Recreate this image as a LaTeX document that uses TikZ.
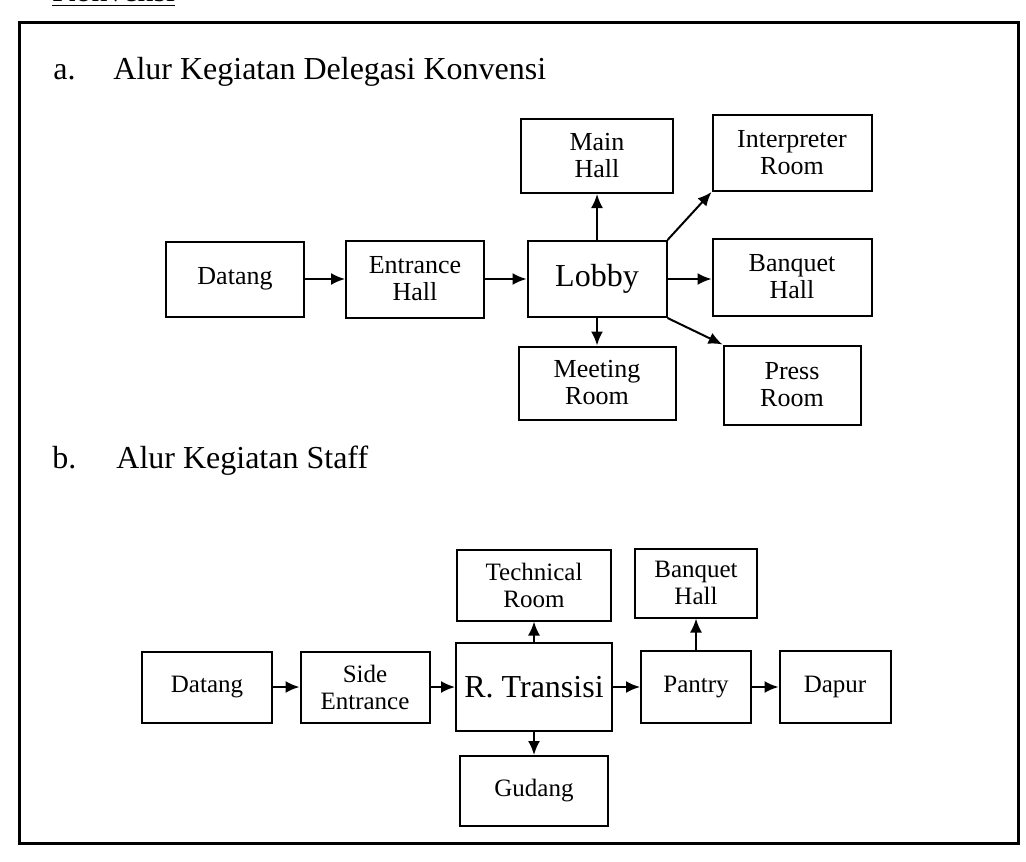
\documentclass[tikz,border=0pt]{standalone}
\usepackage{fontspec}
\setmainfont{Liberation Serif}
\usetikzlibrary{arrows.meta}

\begin{document}
\begin{tikzpicture}[x=0.5pt,y=-0.5pt]

	\tikzset{
		room/.style={rectangle,draw=black,line width=1pt,align=center,inner sep=0pt,font=\fontsize{13}{13.5}\selectfont},
		roomb/.style={room,font=\fontsize{12.5}{13.5}\selectfont},
		hub/.style={room,font=\fontsize{16}{17}\selectfont},
		flow/.style={-{Latex[length=7pt,width=6pt]},line width=1pt},
		heading/.style={anchor=base west,inner sep=0pt,font=\fontsize{16}{17}\selectfont}
	}

	\useasboundingbox (0,0) rectangle (1026,861);
	\node[heading] (pagetitle) at (52,2) {\underline{Konvensi}};
	\draw[line width=1.5pt] (19,23) rectangle (1018,843);

	% a. delegasi
	\node[heading] (labela) at (53,80) {a.};
	\node[heading] (titlea) at (113,80) {Alur Kegiatan Delegasi Konvensi};

	\node[room,minimum width=69pt,minimum height=37.5pt] (datanga) at (235,279) {Datang};
	\node[room,minimum width=69pt,minimum height=38.5pt] (entrancehall) at (415,279) {Entrance\\Hall};
	\node[hub,minimum width=69.5pt,minimum height=38pt] (lobby) at (597,279) {Lobby};
	\node[room,minimum width=76pt,minimum height=37pt] (mainhall) at (597,156) {Main\\Hall};
	\node[room,minimum width=79.5pt,minimum height=38pt] (interpreterroom) at (792,153) {Interpreter\\Room};
	\node[room,minimum width=79.5pt,minimum height=38.5pt] (banquethalla) at (792,277) {Banquet\\Hall};
	\node[room,minimum width=78.5pt,minimum height=36.5pt] (meetingroom) at (597,383) {Meeting\\Room};
	\node[room,minimum width=68.5pt,minimum height=39.5pt] (pressroom) at (792,385) {Press\\Room};

	\draw[flow] (datanga.east) -- (entrancehall.west);
	\draw[flow] (entrancehall.east) -- (lobby.west);
	\draw[flow] (lobby.north) -- (mainhall.south);
	\draw[flow] (lobby.north east) -- (interpreterroom.south west);
	\draw[flow] (lobby.east) -- (lobby.east -| banquethalla.west);
	\draw[flow] (lobby.south) -- (meetingroom.north);
	\draw[flow] (lobby.south east) -- (pressroom.north west);

	% b. staff
	\node[heading] (labelb) at (52,468) {b.};
	\node[heading] (titleb) at (116,468) {Alur Kegiatan Staff};

	\node[roomb,minimum width=65pt,minimum height=35.5pt] (datangb) at (207,687) {Datang};
	\node[roomb,minimum width=64.5pt,minimum height=35.5pt] (sideentrance) at (365,687) {Side\\Entrance};
	\node[hub,minimum width=78pt,minimum height=44pt] (transisi) at (534,687) {R. Transisi};
	\node[roomb,minimum width=77pt,minimum height=35.5pt] (technicalroom) at (534,585) {Technical\\Room};
	\node[roomb,minimum width=74pt,minimum height=35pt] (gudang) at (534,791) {Gudang};
	\node[roomb,minimum width=55pt,minimum height=36pt] (pantry) at (696,687) {Pantry};
	\node[roomb,minimum width=61pt,minimum height=34.5pt] (banquethallb) at (696,583) {Banquet\\Hall};
	\node[roomb,minimum width=55.5pt,minimum height=36pt] (dapur) at (835,687) {Dapur};

	\draw[flow] (datangb.east) -- (sideentrance.west);
	\draw[flow] (sideentrance.east) -- (transisi.west);
	\draw[flow] (transisi.north) -- (technicalroom.south);
	\draw[flow] (transisi.south) -- (gudang.north);
	\draw[flow] (transisi.east) -- (pantry.west);
	\draw[flow] (pantry.north) -- (banquethallb.south);
	\draw[flow] (pantry.east) -- (dapur.west);

\end{tikzpicture}
\end{document}
